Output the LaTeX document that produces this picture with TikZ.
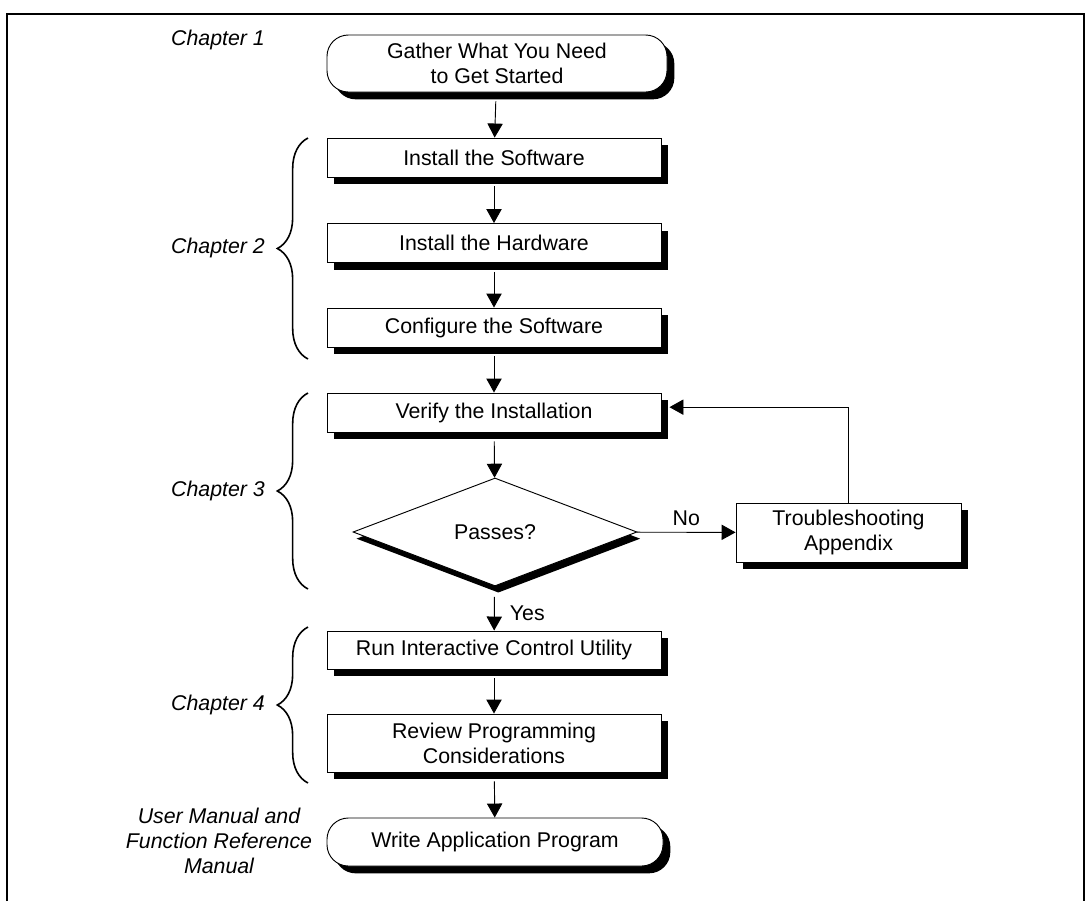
\documentclass[tikz,border=0pt]{standalone}
\usepackage{fontspec}
\setmainfont{Liberation Sans}
\usepackage{tikz}
\usetikzlibrary{arrows.meta,shadows,shapes.geometric,decorations.pathreplacing}

\begin{document}
\begin{tikzpicture}[x=0.75pt,y=0.75pt,yscale=-1,xscale=1,
  font=\fontsize{16}{18.75}\selectfont,
  shad/.style={drop shadow={shadow xshift=5.5pt,shadow yshift=-5.5pt,opacity=1,fill=black}},
  stepbox/.style={draw,line width=0.7pt,fill=white,shad,minimum width=250.5pt,minimum height=29.25pt,align=center,inner sep=0pt},
  endbox/.style={draw,line width=0.7pt,fill=white,shad,rounded corners=16pt,minimum width=255pt,align=center,inner sep=0pt},
  chap/.style={font=\fontsize{16}{18.75}\selectfont\itshape,align=center},
  brc/.style={decorate,decoration={brace,amplitude=23pt},line width=1.2pt},
  arr/.style={-{Triangle[length=10.5pt,width=11.5pt]},line width=0.7pt,shorten <=6.75pt}
]

\useasboundingbox (0,0) rectangle (1086,901);

\draw [line width=1.5pt] (7,901) -- (7,14) -- (1084,14) -- (1084,901);

\node [endbox,minimum height=42.75pt] (gather) at (497,63.5) {Gather What You Need\\to Get Started};

\node [stepbox] (soft) at (494,157.5) {Install the Software};

\node [stepbox] (hard) at (494,243) {Install the Hardware};

\node [stepbox] (conf) at (494,327.5) {Configure the Software};

\node [stepbox] (verify) at (494,412.5) {Verify the Installation};

\node [diamond,draw,line width=0.7pt,fill=white,drop shadow={shadow xshift=2.5pt,shadow yshift=-5pt,opacity=1,fill=black},minimum width=213pt,minimum height=81pt,inner sep=0pt] (pass) at (495,532) {Passes?};

\node [stepbox,minimum width=168.75pt,minimum height=44.25pt] (trouble) at (848.5,532.5) {Troubleshooting\\Appendix};

\node [stepbox,minimum height=28.5pt] (run) at (494,650) {Run Interactive Control Utility};

\node [stepbox,minimum height=43.5pt] (review) at (494,743) {Review Programming\\Considerations};

\node [endbox,minimum width=252pt,minimum height=36pt] (write) at (495,842) {Write Application Program};

\draw [arr] (gather) -- (soft);
\draw [arr] (soft) -- (hard);
\draw [arr] (hard) -- (conf);
\draw [arr] (conf) -- (verify);
\draw [arr] (verify) -- (pass);
\draw [arr,shorten <=8pt] (pass) -- node [anchor=west,xshift=8pt,yshift=-4pt] (yes) {Yes} (run);
\draw [arr,shorten <=0pt] (pass) -- node [above,yshift=1pt] (no) {No} (trouble);
\draw [arr,shorten <=0pt] (trouble.north) |- ([xshift=6pt,yshift=-4pt]verify.east);
\draw [arr] (run) -- (review);
\draw [arr] (review) -- (write);

\node [chap] (ch1) at (218,40) {Chapter 1};

\draw [brc] (308,359) -- (308,138);
\node [chap] (ch2) at (218,248) {Chapter 2};

\draw [brc] (308,589) -- (308,393);
\node [chap] (ch3) at (218,491) {Chapter 3};

\draw [brc] (308,783) -- (308,627);
\node [chap] (ch4) at (218,705) {Chapter 4};

\node [chap] (manual) at (219,841) {User Manual and\\Function Reference\\Manual};

\end{tikzpicture}
\end{document}
